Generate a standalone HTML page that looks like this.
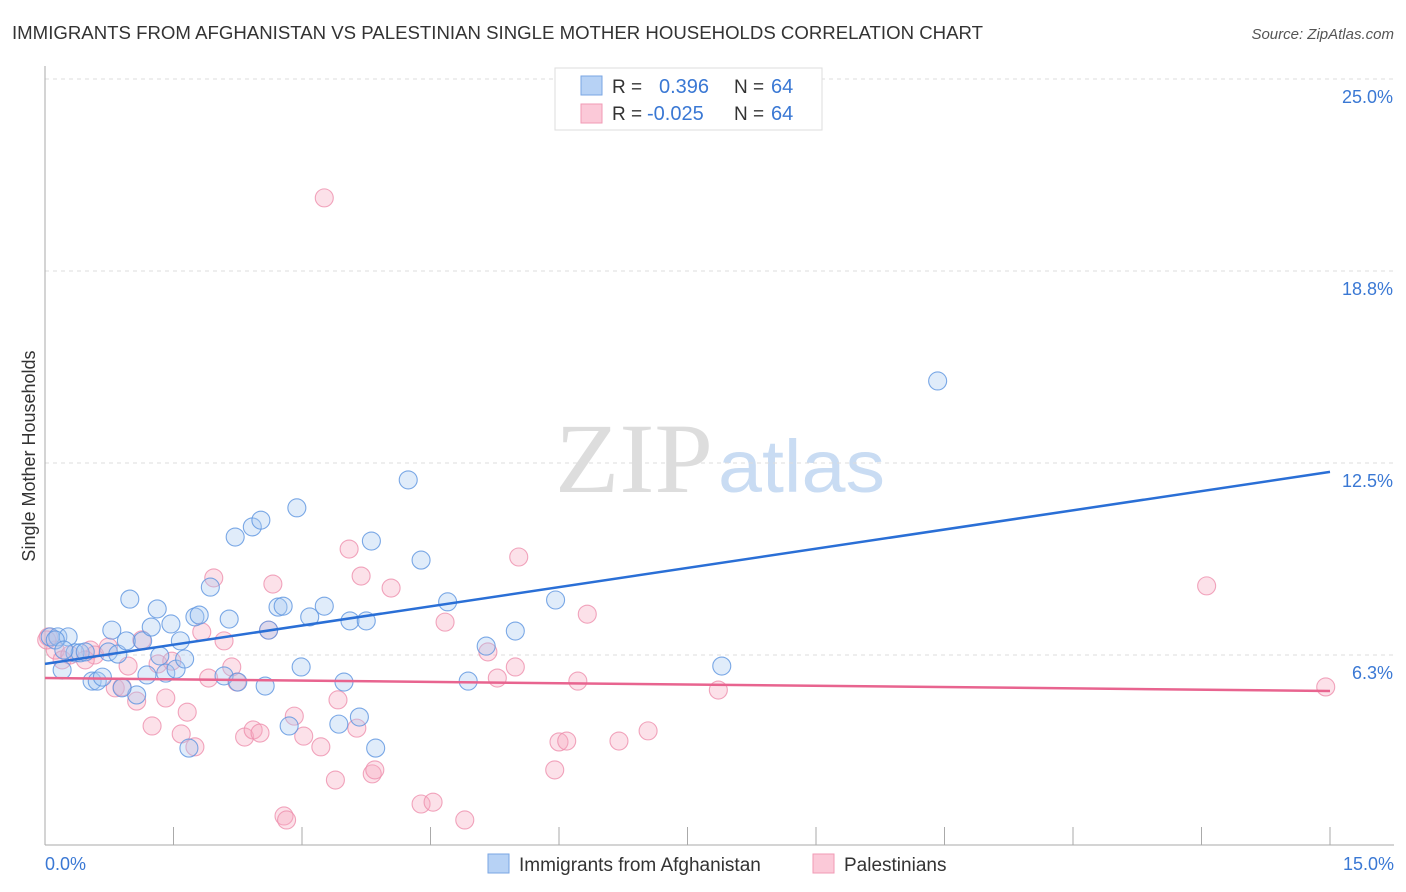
<!DOCTYPE html>
<html><head><meta charset="utf-8"><style>
body{margin:0;background:#fff;font-family:"Liberation Sans",sans-serif}
svg{display:block}
</style></head><body>
<svg id="chart" width="1406" height="892" xmlns="http://www.w3.org/2000/svg">
<text x="12" y="39" font-size="18" fill="#333" textLength="971" lengthAdjust="spacingAndGlyphs">IMMIGRANTS FROM AFGHANISTAN VS PALESTINIAN SINGLE MOTHER HOUSEHOLDS CORRELATION CHART</text>
<text x="1394" y="39" font-size="15" fill="#555" font-style="italic" text-anchor="end">Source: ZipAtlas.com</text>
<text x="555" y="492" font-size="100" fill="#ddd" font-family="Liberation Serif" textLength="158" lengthAdjust="spacingAndGlyphs">ZIP</text>
<text x="718" y="492" font-size="74" fill="#c9dcf3" textLength="167" lengthAdjust="spacingAndGlyphs">atlas</text>
<g id="grid"></g>
<line x1="45" y1="66" x2="45" y2="845" stroke="#aaa"/>
<line x1="45" y1="845" x2="1394" y2="845" stroke="#aaa"/>
<text x="35" y="456" font-size="18" fill="#333" transform="rotate(-90 35 456)" text-anchor="middle">Single Mother Households</text>
<text x="45" y="870" font-size="18" fill="#3a78d4">0.0%</text>
<text x="1394" y="870" font-size="18" fill="#3a78d4" text-anchor="end">15.0%</text>
<g id="pts"></g>
<g id="lines"></g>
<g>
<rect x="555" y="68" width="267" height="62" fill="#fff" stroke="#ddd"/>
<rect x="581" y="76" width="21" height="19" fill="#b7d2f5" stroke="#7aa6e3"/>
<rect x="581" y="104" width="21" height="19" fill="#fbc9d8" stroke="#f09ab5"/>
<text x="612" y="93" font-size="19" fill="#333">R = </text><text x="659" y="93" font-size="20" fill="#3a78d4">0.396</text>
<text x="734" y="93" font-size="19" fill="#333">N = </text><text x="771" y="93" font-size="20" fill="#3a78d4">64</text>
<text x="612" y="120" font-size="19" fill="#333">R = </text><text x="647" y="120" font-size="20" fill="#3a78d4">-0.025</text>
<text x="734" y="120" font-size="19" fill="#333">N = </text><text x="771" y="120" font-size="20" fill="#3a78d4">64</text>
</g>
<g>
<rect x="488" y="854" width="21" height="19" fill="#b7d2f5" stroke="#7aa6e3"/>
<text x="519" y="871" font-size="19" fill="#333">Immigrants from Afghanistan</text>
<rect x="813" y="854" width="21" height="19" fill="#fbc9d8" stroke="#f09ab5"/>
<text x="844" y="871" font-size="19" fill="#333">Palestinians</text>
</g>
</svg>
<script>
const yTicks=[6.3,12.5,18.8,25.0];
const yTickVals=[6.25,12.5,18.75,25];
const xTicks=[0,1.5,3,4.5,6,7.5,9,10.5,12,13.5,15];
const blueX=[0.06,0.15,0.27,0.20,0.35,0.41,0.47,0.55,0.61,0.67,0.74,0.78,0.85,0.95,0.99,1.07,0.90,1.14,1.19,1.24,1.31,1.34,1.41,1.47,1.53,1.58,1.63,1.68,1.75,1.80,1.93,2.09,2.15,2.22,2.25,2.42,2.52,2.57,2.61,2.72,2.78,2.85,2.94,2.99,3.09,3.26,3.49,3.43,3.56,3.67,3.75,3.81,3.86,4.24,4.39,4.70,4.94,5.15,5.49,5.96,7.90,10.42,0.12,0.22];
const blueY=[6.84,6.84,6.84,5.76,6.32,6.32,6.35,5.40,5.40,5.53,6.35,7.06,6.28,6.71,8.07,4.95,5.18,6.71,5.60,7.16,7.75,6.22,5.66,7.26,5.79,6.71,6.12,3.22,7.49,7.55,8.46,5.57,7.42,10.09,5.37,10.42,10.64,5.24,7.06,7.81,7.84,3.94,11.04,5.86,7.49,7.84,5.37,4.00,7.36,4.23,7.36,9.96,3.22,11.95,9.34,7.98,5.40,6.54,7.03,8.04,5.89,15.17,6.74,6.41];
const pinkX=[0.04,0.12,0.20,0.29,0.53,0.58,0.74,0.82,0.90,0.97,1.07,1.13,1.25,1.32,1.41,1.48,1.59,1.66,1.75,1.83,1.97,1.91,2.09,2.18,2.24,2.33,2.43,2.51,2.61,2.66,2.79,2.82,2.91,3.02,3.22,3.26,3.39,3.42,3.55,3.64,3.69,3.82,3.85,4.04,4.39,4.53,4.67,4.90,5.17,5.28,5.49,5.53,5.95,6.00,6.09,6.22,6.33,6.70,7.04,7.86,13.56,14.95,0.02,0.47];
const pinkY=[6.84,6.41,6.09,6.25,6.41,6.25,6.51,5.18,5.21,5.89,4.75,6.74,3.94,5.96,4.85,6.05,3.68,4.39,3.26,7.00,8.76,5.50,6.71,5.86,5.37,3.58,3.81,3.71,7.06,8.56,1.01,0.88,4.26,3.61,3.26,21.13,2.18,4.79,9.70,3.87,8.82,2.38,2.51,8.43,1.40,1.46,7.32,0.88,6.35,5.50,5.86,9.44,2.51,3.42,3.45,5.40,7.58,3.45,3.78,5.11,8.50,5.21,6.74,6.09];
const blueLine=[5.96,12.21];
const pinkLine=[5.50,5.08];
const NS='http://www.w3.org/2000/svg';
const sx=v=>45+v/15*1285;
const sy=v=>847-v/6.25*192;
const grid=document.getElementById('grid');
yTickVals.forEach((v,i)=>{
 const l=document.createElementNS(NS,'line');
 l.setAttribute('x1',45);l.setAttribute('x2',1394);l.setAttribute('y1',sy(v));l.setAttribute('y2',sy(v));
 l.setAttribute('stroke','#ddd');l.setAttribute('stroke-dasharray','4,4');
 
 
 grid.appendChild(l);
 const t=document.createElementNS(NS,'text');
 t.setAttribute('x',1393);t.setAttribute('y',sy(v)+24);t.setAttribute('text-anchor','end');
 t.setAttribute('font-size','18');t.setAttribute('fill','#3a78d4');
 t.textContent=yTicks[i].toFixed(1)+'%';
 
 
 grid.appendChild(t);
});
xTicks.forEach(v=>{
 const l=document.createElementNS(NS,'line');
 l.setAttribute('x1',sx(v));l.setAttribute('x2',sx(v));l.setAttribute('y1',827);l.setAttribute('y2',845);
 l.setAttribute('stroke','#aaa');
 
 
 grid.appendChild(l);
});
const pts=document.getElementById('pts');
function dots(xs,ys,fill,stroke,name){
 xs.forEach((x,i)=>{
  const c=document.createElementNS(NS,'circle');
  c.setAttribute('cx',sx(x));c.setAttribute('cy',sy(ys[i]));c.setAttribute('r',9);
  c.setAttribute('fill',fill);c.setAttribute('fill-opacity','0.35');c.setAttribute('stroke',stroke);c.setAttribute('stroke-width','1.1');c.setAttribute('stroke-opacity','0.8');
  
  
  pts.appendChild(c);
 });
}
dots(pinkX,pinkY,'#f7a8c0','#ee8fad','palestinian-point');
dots(blueX,blueY,'#a7c8f2','#5b93e0','afghanistan-point');
const lines=document.getElementById('lines');
function line(v,color,name){
 const l=document.createElementNS(NS,'line');
 l.setAttribute('x1',sx(0));l.setAttribute('x2',sx(15));l.setAttribute('y1',sy(v[0]));l.setAttribute('y2',sy(v[1]));
 l.setAttribute('stroke',color);l.setAttribute('stroke-width','2.5');
 
 
 lines.appendChild(l);
}
line(pinkLine,'#e8648f','palestinian-trend-line');
line(blueLine,'#2a6fd6','afghanistan-trend-line');
</script>
</body></html>
